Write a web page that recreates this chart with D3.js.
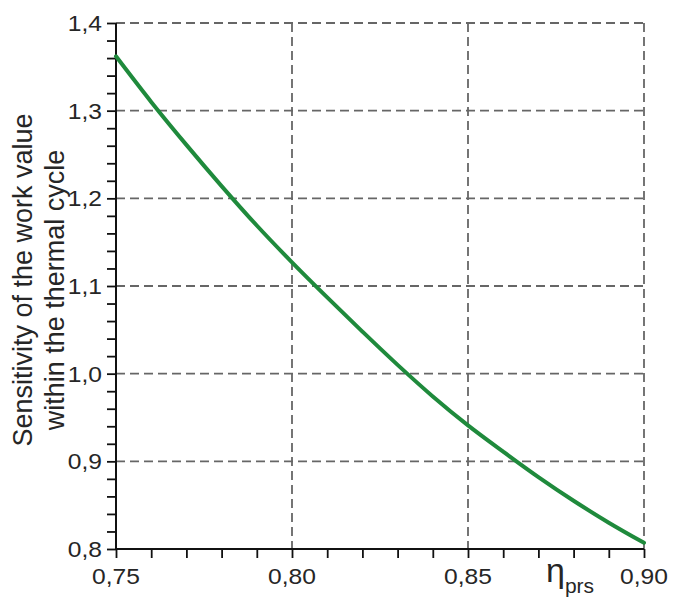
<!DOCTYPE html>
<html>
<head>
<meta charset="utf-8">
<script src="https://cdn.jsdelivr.net/npm/d3@7"></script>
<style>
  html, body { margin: 0; padding: 0; background: #fff; }
  svg { display: block; }
  text { font-family: "Liberation Sans", Arial, sans-serif; fill: #262626; }
</style>
</head>
<body>
<svg id="chart" width="673" height="600"></svg>
<script>
// ---- data ----
const etaPrs = [0.75, 0.76, 0.77, 0.78, 0.79, 0.80, 0.81, 0.82, 0.83, 0.84, 0.85, 0.86, 0.87, 0.88, 0.89, 0.90];
const sensitivity = [1.362, 1.310, 1.261, 1.214, 1.169, 1.127, 1.087, 1.048, 1.010, 0.974, 0.941, 0.911, 0.882, 0.855, 0.830, 0.807];
const xTicks = [0.75, 0.80, 0.85, 0.90];
const xTickLabels = ["0,75", "0,80", "0,85", "0,90"];
const yTicks = [0.8, 0.9, 1.0, 1.1, 1.2, 1.3, 1.4];
const yTickLabels = ["0,8", "0,9", "1,0", "1,1", "1,2", "1,3", "1,4"];
const yTitleLines = ["Sensitivity of the work value", "within the thermal cycle"];

// ---- layout ----
const svg = d3.select("#chart");
const pLeft = 116, pRight = 644, pTop = 23, pBottom = 549;
const x = d3.scaleLinear().domain([0.75, 0.90]).range([pLeft, pRight]);
const y = d3.scaleLinear().domain([0.8, 1.4]).range([pBottom, pTop]);

// gridlines (dashed)
const grid = svg.append("g").attr("stroke", "#666").attr("stroke-width", 1.8)
  .attr("stroke-dasharray", "9,5");
grid.selectAll("line.gx").data(xTicks.slice(1)).join("line")
  .attr("x1", d => x(d)).attr("x2", d => x(d))
  .attr("y1", pTop).attr("y2", pBottom);
grid.selectAll("line.gy").data(yTicks.slice(1)).join("line")
  .attr("x1", pLeft).attr("x2", pRight)
  .attr("y1", d => y(d)).attr("y2", d => y(d));

// axes
const minorX = d3.range(0, 16).map(i => 0.75 + i * 0.01);
const minorY = d3.range(0, 31).map(i => 0.8 + i * 0.02);

const xAxis = d3.axisBottom(x).tickValues(minorX).tickSize(9).tickFormat("");
const gx = svg.append("g").attr("transform", `translate(0,${pBottom})`).call(xAxis);
gx.select(".domain").attr("stroke", "#111").attr("stroke-width", 2).attr("d", `M${pLeft},0H${pRight}`);
gx.selectAll(".tick line").attr("stroke", "#111").attr("stroke-width", 1.8);

const yAxis = d3.axisLeft(y).tickValues(minorY).tickSize(9).tickFormat("");
const gy = svg.append("g").attr("transform", `translate(${pLeft},0)`).call(yAxis);
gy.select(".domain").attr("stroke", "#111").attr("stroke-width", 2).attr("d", `M0,${pTop}V${pBottom}`);
gy.selectAll(".tick line").attr("stroke", "#111").attr("stroke-width", 1.8);

// tick labels
svg.append("g").selectAll("text").data(xTicks).join("text")
  .attr("transform", d => `translate(${x(d)},584) scale(1.12,1)`)
  .attr("text-anchor", "middle")
  .attr("font-size", 22)
  .text((d, i) => xTickLabels[i]);

svg.append("g").selectAll("text").data(yTicks).join("text")
  .attr("transform", d => `translate(102,${y(d) + 8}) scale(1.12,1)`)
  .attr("text-anchor", "end")
  .attr("font-size", 22)
  .text((d, i) => yTickLabels[i]);

// x axis label eta_prs
const xl = svg.append("text").attr("x", 546).attr("y", 582);
xl.append("tspan").attr("font-size", 34).text("η");
xl.append("tspan").attr("font-size", 21).attr("dy", 11).text("prs");

// y axis title
svg.append("g").selectAll("text").data(yTitleLines).join("text")
  .attr("transform", (d, i) => `translate(${32 + i * 32},${280 + i * 10}) rotate(-90)`)
  .attr("text-anchor", "middle")
  .attr("font-size", 27)
  .text(d => d);

// curve
const line = d3.line()
  .x((d, i) => x(etaPrs[i]))
  .y(d => y(d))
  .curve(d3.curveCatmullRom);
svg.append("path").datum(sensitivity)
  .attr("d", line)
  .attr("fill", "none")
  .attr("stroke", "#1f8a3c")
  .attr("stroke-width", 4)
  .attr("stroke-linecap", "round");
</script>
</body>
</html>
